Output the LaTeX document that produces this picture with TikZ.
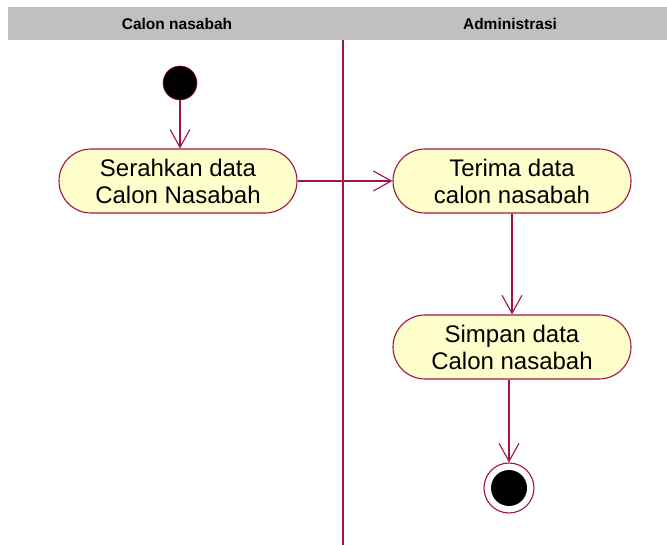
\documentclass[tikz,border=0pt]{standalone}
\usepackage{fontspec}
\setmainfont{Liberation Sans}
\usetikzlibrary{shapes.misc,arrows.meta}
\definecolor{umlline}{RGB}{160,20,70}
\definecolor{umlfill}{RGB}{255,255,204}
\definecolor{lanehead}{RGB}{192,192,192}
\tikzset{
  activity/.style={rounded rectangle, draw=umlline, fill=umlfill, line width=1.1pt,
    minimum width=238pt, minimum height=64pt, align=center, inner sep=0pt,
    font=\fontsize{24}{27}\selectfont},
  flow/.style={draw=umlline, line width=1.1pt,
    -{Straight Barb[length=18pt,width=20pt,line width=1.1pt]}},
  lanetitle/.style={font=\fontsize{15.5}{17}\selectfont\bfseries, inner sep=0pt}
}
\begin{document}
\begin{tikzpicture}[x=1pt,y=-1pt]
  \useasboundingbox (0,0) rectangle (667,545);
  % swimlane header and divider
  \fill[lanehead] (8,7) rectangle (667,40);
  \node[lanetitle] (laneA) at (177,24) {Calon nasabah};
  \node[lanetitle] (laneB) at (510,24) {Administrasi};
  \draw[umlline, line width=1.1pt] (343,40) -- (343,545);
  % start and end states
  \node[circle, fill=black, draw=umlline, line width=0.6pt, minimum size=34pt, inner sep=0pt] (start) at (180,83) {};
  \node[circle, draw=umlline, line width=1.1pt, fill=white, minimum size=50pt, inner sep=0pt] (stop) at (509,488) {};
  \node[circle, fill=black, minimum size=36pt, inner sep=0pt] (stopdot) at (509,488) {};
  % activities
  \node[activity] (serah) at (178,181) {Serahkan data\\Calon Nasabah};
  \node[activity] (terima) at (512,181) {Terima data\\calon nasabah};
  \node[activity] (simpan) at (512,347) {Simpan data\\Calon nasabah};
  % control flows
  \draw[flow] (start) -- (start |- serah.north);
  \draw[flow] (serah.east) -- (terima.west);
  \draw[flow] (terima.south) -- (simpan.north);
  \draw[flow] (simpan.south -| stop.north) -- (stop.north);
\end{tikzpicture}
\end{document}
